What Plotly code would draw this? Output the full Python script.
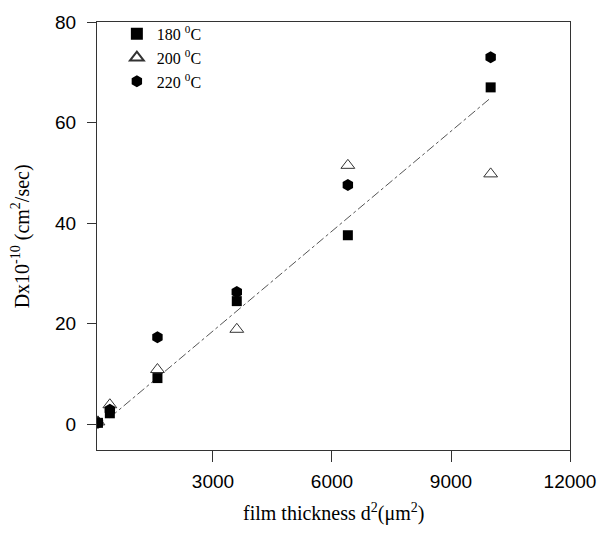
import plotly.graph_objects as go

# d^2 values (um^2)
d2 = [100, 400, 1600, 3600, 6400, 10000]
# Dx10^-10 (cm^2/sec)
dx_180 = [0.3, 2.2, 9.2, 24.5, 37.6, 67.0]
dx_200 = [0.5, 3.9, 10.9, 18.9, 51.5, 49.8]
dx_220 = [0.3, 2.9, 17.3, 26.3, 47.6, 73.0]
series_names = ["180 <sup>0</sup>C", "200 <sup>0</sup>C", "220 <sup>0</sup>C"]

# linear fit line parameters
fit_slope = 0.00662
fit_intercept = -1.3
fit_x = [400, 10000]
fit_y = [fit_intercept + fit_slope * x for x in fit_x]

x_ticks = [3000, 6000, 9000, 12000]
x_tick_labels = ["3000", "6000", "9000", "12000"]
y_ticks = [0, 20, 40, 60, 80]
y_tick_labels = ["0", "20", "40", "60", "80"]

fig = go.Figure()

fig.add_trace(go.Scatter(x=fit_x, y=fit_y, mode="lines",
                         line=dict(color="#555555", width=1, dash="dashdot"),
                         showlegend=False, hoverinfo="skip"))

fig.add_trace(go.Scatter(x=d2, y=dx_180, mode="markers", name=series_names[0],
                         marker=dict(symbol="square", size=10, color="black")))
fig.add_trace(go.Scatter(x=d2, y=dx_200, mode="markers", name=series_names[1],
                         marker=dict(symbol="triangle-up-open", size=12, color="#333333",
                                     line=dict(width=1))))
fig.add_trace(go.Scatter(x=d2, y=dx_220, mode="markers", name=series_names[2],
                         marker=dict(symbol="hexagon", size=12, color="black")))

axis_common = dict(showline=True, linecolor="#333333", linewidth=1, mirror=True,
                   ticks="outside", tickcolor="#333333", showgrid=False, zeroline=False,
                   tickfont=dict(family="Liberation Sans, Arial", size=19, color="black"))

fig.update_xaxes(range=[76, 12000], tickvals=x_ticks, ticktext=x_tick_labels,
                 ticklen=11, ticklabelstandoff=3, **axis_common)
fig.update_yaxes(range=[-5.1, 80], tickvals=y_ticks, ticktext=y_tick_labels,
                 ticklen=9, ticklabelstandoff=7, **axis_common)

fig.update_layout(
    width=613, height=541,
    margin=dict(l=97, r=43, t=19, b=91),
    paper_bgcolor="white", plot_bgcolor="white",
    showlegend=True,
    legend=dict(x=0.042, y=1.012, xanchor="left", yanchor="top",
                bgcolor="rgba(0,0,0,0)",
                font=dict(family="Liberation Serif, Times New Roman", size=16, color="black"),
                tracegroupgap=0, itemsizing="constant"),
    annotations=[
        dict(text="film thickness d<sup>2</sup>(\u03bcm<sup>2</sup>)", xref="paper", yref="paper",
             x=0.5, y=-0.146, xanchor="center", yanchor="middle", showarrow=False,
             font=dict(family="Liberation Serif, Times New Roman", size=20, color="black")),
        dict(text="Dx10<sup>-10</sup> (cm<sup>2</sup>/sec)", xref="paper", yref="paper",
             x=-0.162, y=0.5, xanchor="center", yanchor="middle", showarrow=False, textangle=-90,
             font=dict(family="Liberation Serif, Times New Roman", size=20, color="black")),
    ],
)

fig.write_html("out.html")
